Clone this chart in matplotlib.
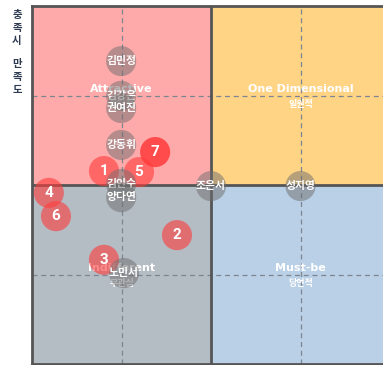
import matplotlib
matplotlib.use("Agg")
import matplotlib.pyplot as plt
from matplotlib.patches import Rectangle

plt.rcParams['font.family'] = ['Noto Sans CJK KR', 'DejaVu Sans']

# Respondent positions (x: dissatisfaction coefficient, y: satisfaction coefficient)
names = ['김민정', '김강은', '권여진', '강동휘', '김인수', '양다연', '조은서', '성지영', '노민서']
name_x = [0.249, 0.249, 0.249, 0.249, 0.249, 0.249, 0.50, 0.75, 0.257]
name_y = [0.846, 0.749, 0.715, 0.612, 0.503, 0.466, 0.497, 0.497, 0.254]

# Numbered items
item_labels = ['1', '2', '3', '4', '5', '6', '7']
item_x = [0.201, 0.405, 0.201, 0.047, 0.299, 0.067, 0.344]
item_y = [0.539, 0.360, 0.291, 0.478, 0.536, 0.413, 0.592]

# Kano quadrants
quad_en = ['Attractive', 'One Dimensional', 'Indifferent', 'Must-be']
quad_ko = ['매력적', '일원적', '무관심', '당연적']
quad_x0 = [0.0, 0.5, 0.0, 0.5]
quad_y0 = [0.5, 0.5, 0.0, 0.0]
quad_colors = ['#ffaaaa', '#ffd485', '#b4bcc4', '#b9d0e6']

W, H = 383, 365
fig = plt.figure(figsize=(W / 100, H / 100), dpi=100)
ax = fig.add_axes([32 / W, 1 / H, 358 / W, 358 / H])
ax.set_xlim(0, 1)
ax.set_ylim(0, 1)
ax.set_xticks([])
ax.set_yticks([])
for s in ax.spines.values():
    s.set_color('#555555')
    s.set_linewidth(2)

for x0, y0, c in zip(quad_x0, quad_y0, quad_colors):
    ax.add_patch(Rectangle((x0, y0), 0.5, 0.5, facecolor=c, edgecolor='none', zorder=0))

# quarter guides
for v in (0.25, 0.75):
    ax.axvline(v, color='#7d8590', lw=0.9, ls=(0, (4, 3)), zorder=1)
    ax.axhline(v, color='#7d8590', lw=0.9, ls=(0, (4, 3)), zorder=1)
# quadrant dividers
ax.axvline(0.5, color='#555555', lw=2, zorder=2)
ax.axhline(0.5, color='#555555', lw=2, zorder=2)

for en, ko, x0, y0 in zip(quad_en, quad_ko, quad_x0, quad_y0):
    cx, cy = x0 + 0.25, y0 + 0.25
    ax.text(cx, cy + 0.004, en, color='white', fontsize=8, fontweight='bold',
            family='DejaVu Sans', ha='center', va='bottom', zorder=3)
    ax.text(cx, cy - 0.012, ko, color='white', fontsize=6.5, fontweight='bold',
            ha='center', va='top', zorder=3)

# numbered items
for lab, x, y in zip(item_labels, item_x, item_y):
    alpha = 0.85 if lab == '7' else 0.6
    ax.scatter([x], [y], s=470, color='#ff3b3b', alpha=alpha, edgecolors='none', zorder=4)
    ax.text(x, y, lab, color='white', fontsize=11, fontweight='bold', family='Roboto',
            ha='center', va='center', zorder=4.5)

# respondents
z = 6
for n, x, y in zip(names, name_x, name_y):
    ax.scatter([x], [y], s=470, color='#6e6e6e', alpha=0.5, edgecolors='none', zorder=z)
    ax.text(x, y, n, color='white', fontsize=7.8, fontweight='bold',
            ha='center', va='center', zorder=z + 0.5)
    z += 1

# vertical axis caption
fig.text(17 / W, 1 - 28 / H, '충\n족\n시', color='#2f3b52', fontsize=7.5, fontweight='bold',
         ha='center', va='center', linespacing=1.4)
fig.text(17 / W, 1 - 77 / H, '만\n족\n도', color='#2f3b52', fontsize=7.5, fontweight='bold',
         ha='center', va='center', linespacing=1.4)

fig.savefig('out.png', dpi=100)
